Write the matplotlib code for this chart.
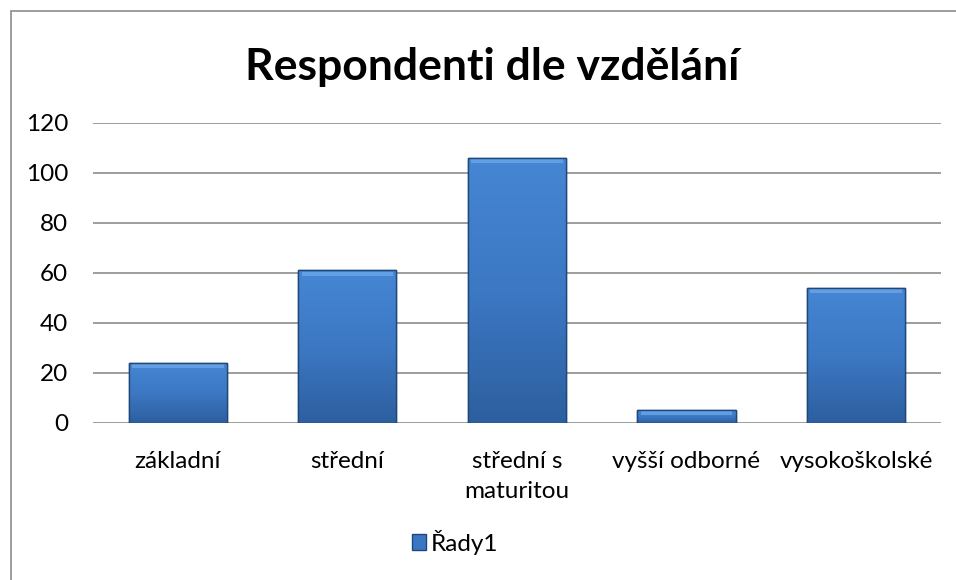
import matplotlib
matplotlib.use("Agg")
import matplotlib.pyplot as plt
import numpy as np
from matplotlib.patches import Rectangle
from matplotlib.colors import LinearSegmentedColormap

categories = ["základní", "střední", "střední s\nmaturitou", "vyšší odborné", "vysokoškolské"]
values = [24, 61, 106, 5, 54]
series_name = "Řady1"
y_ticks = [0, 20, 40, 60, 80, 100, 120]

plt.rcParams["font.family"] = ["Lato", "DejaVu Sans"]

fig = plt.figure(figsize=(9.56, 5.8), dpi=100)
fig.patch.set_facecolor("white")
ax = fig.add_axes([0.0973, 0.2707, 0.8867, 0.5173])

bar_w = 0.58
x = np.arange(len(categories))
bars = ax.bar(x, values, width=bar_w, color="#3b76c2", edgecolor="#1f4778",
              linewidth=1.0, zorder=3, label=series_name)

# vertical gradient inside each bar
cmap = LinearSegmentedColormap.from_list("bar", ["#2d5f9f", "#3c78c4", "#4686d3"])
grad = np.linspace(0, 1, 256).reshape(-1, 1)
for b in bars:
    x0, w, h = b.get_x(), b.get_width(), b.get_height()
    im = ax.imshow(grad, cmap=cmap, aspect="auto", origin="lower",
                   extent=(x0, x0 + w, 0, h), zorder=3.5)
    im.set_clip_path(b)
    # highlight strip on top of bar
    top = min(2.2, h * 0.35)
    ax.add_patch(Rectangle((x0 + 0.02, h - top), w - 0.04, top * 0.8,
                           facecolor="#6aa6ea", edgecolor="none", alpha=0.8, zorder=3.6))
    ax.add_patch(Rectangle((x0, 0), w, h, facecolor="none",
                           edgecolor="#1f4778", linewidth=1.0, zorder=3.7))

ax.set_xlim(-0.5, len(categories) - 0.5)
ax.set_ylim(0, 120)
ax.set_yticks(y_ticks)
ax.set_xticks(x)
ax.set_xticklabels(categories, fontsize=17.5, linespacing=1.55)
ax.tick_params(axis="y", labelsize=17.5, length=0, pad=18)
ax.tick_params(axis="x", length=0, pad=20)
ax.grid(axis="y", color="#8c8c8c", linewidth=1.2, zorder=0)
for s in ax.spines.values():
    s.set_visible(False)

fig.text(0.515, 0.885, "Respondenti dle vzdělání", ha="center", va="center",
         fontsize=32, fontweight="bold")

fig.legend(handles=[bars], labels=[series_name], loc="center",
           bbox_to_anchor=(0.476, 0.0655), frameon=False, fontsize=17.5,
           handlelength=0.6, handleheight=0.6, handletextpad=0.2)

# outer chart frame (right/bottom edges fall outside the image)
fig.add_artist(Rectangle((11 / 956, -0.05), 1.1, 1.05 - 11 / 580,
                         transform=fig.transFigure, facecolor="none",
                         edgecolor="#8c8c8c", linewidth=1.2))

fig.savefig("out.png", dpi=100)
